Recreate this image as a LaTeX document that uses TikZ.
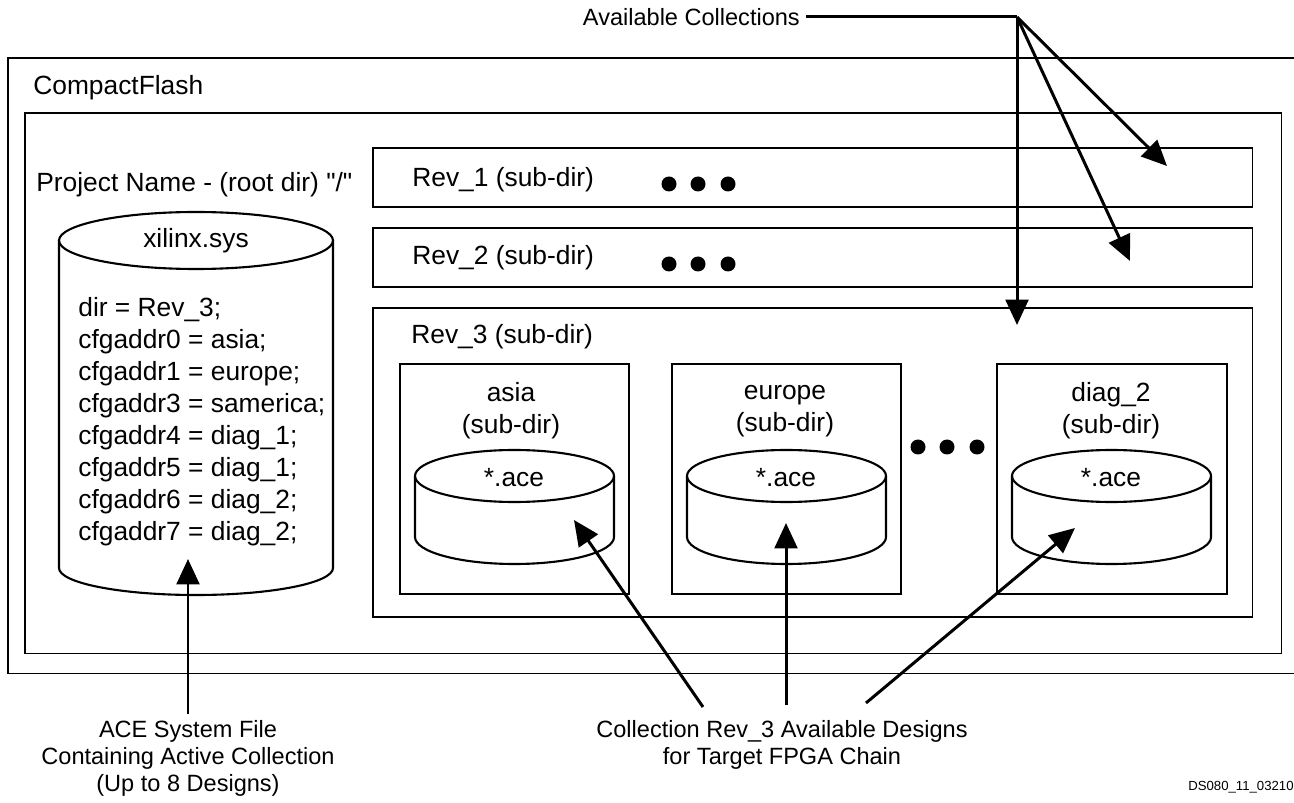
\documentclass[tikz,border=0pt]{standalone}
\usepackage{fontspec}
\setmainfont{Liberation Sans}
\usetikzlibrary{arrows.meta}
\tikzstyle{box} = [rectangle, draw, line width=0.9pt, anchor=north west, inner sep=0pt]
\tikzstyle{dirtext} = [font=\fontsize{15}{18.2}\selectfont, inner sep=0pt]
\tikzstyle{notetext} = [font=\fontsize{13.4}{15.5}\selectfont, align=center]
\tikzstyle{disk} = [line width=1.2pt]
\tikzstyle{lead} = [line width=1.7pt]
\tikzstyle{arrow} = [line width=1.7pt, -{Triangle[length=14.5pt, width=13pt]}]

\begin{document}
\begin{tikzpicture}[x=0.02cm, y=-0.02cm]
    \useasboundingbox (0,0) rectangle (1294,803);
    \clip (0,0) rectangle (1294,803);
    \node [box, minimum width=26.2cm, minimum height=12.32cm] at (7,57) (cf) {};
    \node [box, minimum width=25.14cm, minimum height=10.82cm] at (24,112) (root) {};
    \node [box, minimum width=17.6cm, minimum height=1.18cm] at (372,147) (rev1) {};
    \node [box, minimum width=17.6cm, minimum height=1.18cm] at (372,227) (rev2) {};
    \node [box, minimum width=17.6cm, minimum height=6.18cm] at (372,307) (rev3) {};
    \node [box, minimum width=4.58cm, minimum height=4.6cm] at (399,363) (asia) {};
    \node [box, minimum width=4.58cm, minimum height=4.6cm] at (671,363) (europe) {};
    \node [box, minimum width=4.6cm, minimum height=4.6cm] at (996,363) (diag) {};

    \node [dirtext, anchor=west] at (33,88) (cftext) {CompactFlash};
    \node [dirtext, anchor=west] at (36,185) (roottext) {Project Name - (root dir) \textquotedbl/\textquotedbl};
    \node [dirtext, anchor=west] at (412,180) (rev1text) {Rev\_1 (sub-dir)};
    \node [dirtext, anchor=west] at (412,258) (rev2text) {Rev\_2 (sub-dir)};
    \node [dirtext, anchor=west] at (411,337) (rev3text) {Rev\_3 (sub-dir)};

    \fill (669,184) circle [radius=7.5];
    \fill (698,184) circle [radius=7.5];
    \fill (728,184) circle [radius=7.5];
    \fill (669,264) circle [radius=7.5];
    \fill (698,264) circle [radius=7.5];
    \fill (728,264) circle [radius=7.5];
    \fill (918,447) circle [radius=7.5];
    \fill (947,447) circle [radius=7.5];
    \fill (977,447) circle [radius=7.5];

    \draw [disk] (59,240.5) -- (59,568) arc [start angle=180, end angle=0, x radius=137, y radius=27] -- (333,240.5);
    \draw [disk] (196,240.5) ellipse [x radius=137, y radius=28.5];
    \node [dirtext] at (196,241) (systext) {xilinx.sys};
    \node [dirtext, align=left, anchor=north west] at (78,297) (cfgtext) {dir = Rev\_3;\\cfgaddr0 = asia;\\cfgaddr1 = europe;\\cfgaddr3 = samerica;\\cfgaddr4 = diag\_1;\\cfgaddr5 = diag\_1;\\cfgaddr6 = diag\_2;\\cfgaddr7 = diag\_2;};

    \draw [disk] (415,476) -- (415,537) arc [start angle=180, end angle=0, x radius=99.5, y radius=27] -- (614,476);
    \draw [disk] (514.5,476) ellipse [x radius=99.5, y radius=26];
    \draw [disk] (687,476) -- (687,537) arc [start angle=180, end angle=0, x radius=99.5, y radius=27] -- (886,476);
    \draw [disk] (786.5,476) ellipse [x radius=99.5, y radius=26];
    \draw [disk] (1012,476) -- (1012,537) arc [start angle=180, end angle=0, x radius=99.5, y radius=27] -- (1211,476);
    \draw [disk] (1111.5,476) ellipse [x radius=99.5, y radius=26];

    \node [dirtext, align=center] at (511,411) (asiatext) {asia\\(sub-dir)};
    \node [dirtext, align=center] at (785,411) (europetext) {europe\\(sub-dir)};
    \node [dirtext, align=center] at (1111,411) (diagtext) {diag\_2\\(sub-dir)};
    \node [dirtext] at (514,478) (asiaace) {*.ace};
    \node [dirtext] at (786,478) (europeace) {*.ace};
    \node [dirtext] at (1111,478) (diagace) {*.ace};

    \node [notetext, anchor=east] at (806,17) (avail) {Available Collections};
    \node [notetext, anchor=north] at (188,714) (ace) {ACE System File\\Containing Active Collection\\(Up to 8 Designs)};
    \node [notetext, anchor=north] at (782,714) (coll) {Collection Rev\_3 Available Designs\\for Target FPGA Chain};
    \node [font=\fontsize{7.5}{9}\selectfont, anchor=west, inner sep=0pt] at (1188,787) (dsid) {DS080\_11\_03210};

    \coordinate (hub) at (1017,17);
    \coordinate (rev1tip) at (1167,166);
    \coordinate (rev2tip) at (1130,261);
    \coordinate (rev3tip) at (1017,325);
    \coordinate (systip) at (188,559);
    \coordinate (asiatip) at (574,520);
    \coordinate (europetip) at (786,523);
    \coordinate (diagtip) at (1075,528);
    \coordinate (asiafoot) at (703,707);
    \coordinate (europefoot) at (786,705);
    \coordinate (diagfoot) at (866,703);

    \draw [lead] (avail) -- (hub);
    \draw [arrow] (hub) -- (rev1tip);
    \draw [arrow] (hub) -- (rev2tip);
    \draw [arrow] (hub) -- (rev3tip);
    \draw [arrow] (ace) -- (systip);
    \draw [arrow] (asiafoot) -- (asiatip);
    \draw [arrow] (europefoot) -- (europetip);
    \draw [arrow] (diagfoot) -- (diagtip);
\end{tikzpicture}
\end{document}
